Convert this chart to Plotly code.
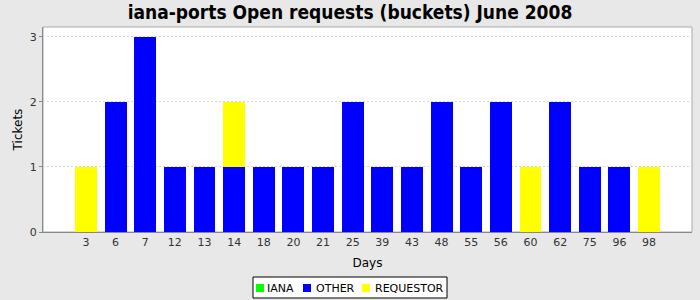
import plotly.graph_objects as go

days = ["3", "6", "7", "12", "13", "14", "18", "20", "21", "25", "39", "43", "48", "55", "56", "60", "62", "75", "96", "98"]
iana = [0] * 20
other = [0, 2, 3, 1, 1, 1, 1, 1, 1, 2, 1, 1, 2, 1, 2, 0, 2, 1, 1, 0]
requestor = [1, 0, 0, 0, 0, 1, 0, 0, 0, 0, 0, 0, 0, 0, 0, 1, 0, 0, 0, 1]
series_names = ["IANA", "OTHER", "REQUESTOR"]
series_colors = ["#00ff00", "#0000ff", "#ffff00"]

fig = go.Figure()
for name, vals, col in zip(series_names, [iana, other, requestor], series_colors):
    fig.add_trace(go.Bar(x=days, y=vals, name=name, marker=dict(color=col, line=dict(width=0)),
                         showlegend=False))

W, H = 700, 300
L, R, T, B = 43, 8, 27, 68
pw, ph = W - L - R, H - T - B

def px(x):
    return (x - L) / pw

def py(y):
    return (H - B - y) / ph

font = "DejaVu Sans"
fig.update_layout(
    width=W, height=H,
    barmode="stack", bargap=0.26,
    paper_bgcolor="#e8e8e8", plot_bgcolor="#ffffff",
    margin=dict(l=L, r=R, t=T, b=B, autoexpand=False),
    title=dict(text="<b>iana-ports Open requests (buckets) June 2008</b>", x=0.5, xref="container",
               y=0.96, yanchor="middle", font=dict(family="DejaVu Sans Condensed", size=19, color="#000000")),
    font=dict(family=font, size=11, color="#333333"),
    showlegend=False,
)
fig.update_xaxes(type="category", range=[-1.45, 20.45], showgrid=False, showline=True, linecolor="#888888",
                 linewidth=1, ticks="", title=dict(text="Days", font=dict(size=12, color="#000000"), standoff=10),
                 tickfont=dict(size=11, color="#333333"))
fig.update_yaxes(range=[0, 3.15], tickvals=[0, 1, 2, 3], showgrid=True, gridcolor="#d8d8d8", griddash="2px,2px",
                 gridwidth=1, showline=True, linecolor="#888888", linewidth=1, ticks="outside", ticklen=3,
                 tickcolor="#888888", zeroline=False,
                 title=dict(text="Tickets", font=dict(size=12, color="#000000"), standoff=4),
                 tickfont=dict(size=11, color="#333333"))
fig.add_shape(type="rect", xref="paper", yref="paper", x0=0, y0=0, x1=1, y1=1,
              line=dict(color="#aaaaaa", width=1), layer="below")

# manual legend (box, swatches, labels)
fig.add_shape(type="rect", xref="paper", yref="paper", x0=px(253), x1=px(447), y0=py(298), y1=py(277),
              line=dict(color="#000000", width=1), fillcolor="#ffffff")
sw_x = [256, 303, 362]
txt_x = [266, 315, 374]
cy = 288
for name, col, sx, tx in zip(series_names, series_colors, sw_x, txt_x):
    fig.add_shape(type="rect", xref="paper", yref="paper", x0=px(sx), x1=px(sx + 8), y0=py(cy + 4), y1=py(cy - 4),
                  line=dict(width=0), fillcolor=col)
    fig.add_annotation(text=name, xref="paper", yref="paper", x=px(tx - 1), y=py(cy), xanchor="left",
                       yanchor="middle", showarrow=False, font=dict(family=font, size=11, color="#000000"))
fig.write_html("out.html")
